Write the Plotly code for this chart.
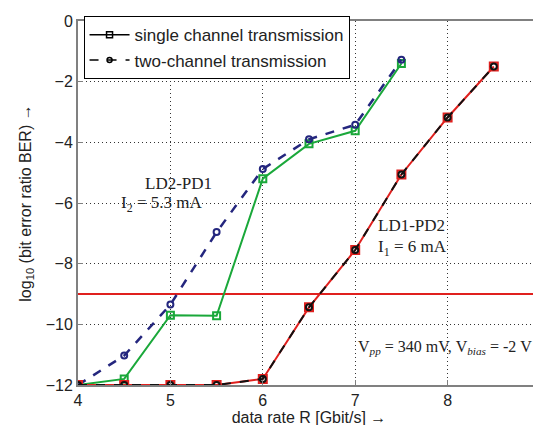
import plotly.graph_objects as go

rate_ld2 = [4, 4.5, 5, 5.5, 6, 6.5, 7, 7.5]
single_ld2 = [-12, -11.8, -9.7, -9.72, -5.2, -4.05, -3.62, -1.4]
two_ld2 = [-12, -11.03, -9.35, -6.96, -4.88, -3.9, -3.42, -1.28]

rate_ld1 = [4, 4.5, 5, 5.5, 6, 6.5, 7, 7.5, 8, 8.5]
single_ld1 = [-12, -12, -12, -12, -11.8, -9.44, -7.55, -5.06, -3.18, -1.5]
two_ld1 = [-12, -12, -12, -12, -11.8, -9.44, -7.55, -5.06, -3.18, -1.5]

ber_limit = -9
x_ticks = [4, 5, 6, 7, 8, 9]
y_ticks = [-12, -10, -8, -6, -4, -2, 0]

fig = go.Figure()

fig.add_trace(go.Scatter(x=[4, 9], y=[ber_limit, ber_limit], mode="lines",
                         line=dict(color="#e0201e", width=2), showlegend=False, hoverinfo="skip"))
fig.add_trace(go.Scatter(x=rate_ld2, y=single_ld2, mode="lines+markers",
                         line=dict(color="#1aa83a", width=2),
                         marker=dict(symbol="square-open", size=7, color="#1aa83a", line=dict(width=2)),
                         showlegend=False))
fig.add_trace(go.Scatter(x=rate_ld2, y=two_ld2, mode="lines+markers",
                         line=dict(color="#24267e", width=2.5, dash="dash"),
                         marker=dict(symbol="circle-open", size=6, color="#24267e", line=dict(width=2)),
                         showlegend=False))
fig.add_trace(go.Scatter(x=rate_ld1, y=single_ld1, mode="lines+markers",
                         line=dict(color="#e0201e", width=2),
                         marker=dict(symbol="square-open", size=8, color="#e0201e", line=dict(width=2)),
                         showlegend=False))
fig.add_trace(go.Scatter(x=rate_ld1, y=two_ld1, mode="lines+markers",
                         line=dict(color="#111111", width=2, dash="dash"),
                         marker=dict(symbol="circle-open", size=6, color="#111111", line=dict(width=2)),
                         showlegend=False))

# legend entries
fig.add_trace(go.Scatter(x=[None], y=[None], mode="lines+markers", name="single channel transmission",
                         line=dict(color="black", width=1.5),
                         marker=dict(symbol="square-open", size=6, color="black", line=dict(width=1.5))))
fig.add_trace(go.Scatter(x=[None], y=[None], mode="lines+markers", name="two-channel transmission",
                         line=dict(color="black", width=1.5, dash="dash"),
                         marker=dict(symbol="circle-open", size=5, color="black", line=dict(width=1.5))))

serif = "Liberation Serif, DejaVu Serif, serif"
sp = "&nbsp;"
ann = [
    dict(x=5.09, y=-5.37, text="LD2-PD1", xanchor="center", size=17),
    dict(x=4.44, y=-6.03, text=f"I<sub>2</sub>{sp}={sp}5.3{sp}mA", xanchor="left", size=17),
    dict(x=7.22, y=-6.75, text="LD1-PD2", xanchor="left", size=17),
    dict(x=7.22, y=-7.47, text=f"I<sub>1</sub>{sp}={sp}6{sp}mA", xanchor="left", size=17),
    dict(x=8.94, y=-10.75,
         text=f"V<sub><i>pp</i></sub>{sp}={sp}340{sp}mV,{sp}V<sub><i>bias</i></sub>{sp}={sp}-2{sp}V",
         xanchor="right", size=16),
]
for a in ann:
    fig.add_annotation(x=a["x"], y=a["y"], text=a["text"], showarrow=False, xanchor=a["xanchor"],
                       yanchor="middle",
                       font=dict(family=serif, size=a["size"], color="#222"))

axis_common = dict(showline=True, linecolor="#808080", linewidth=2, mirror=True,
                   showgrid=True, gridcolor="#333333", griddash="1px,3px", gridwidth=1,
                   ticks="inside", ticklen=5, tickcolor="#808080", zeroline=False,
                   tickfont=dict(family="Liberation Sans, Arial, sans-serif", size=16, color="#222"))

fig.update_layout(
    width=541, height=425,
    margin=dict(l=70, r=4, t=13, b=48),
    paper_bgcolor="white", plot_bgcolor="white",
    font=dict(family="Liberation Sans, Arial, sans-serif", size=16, color="#222"),
    xaxis=dict(range=[4, 9], tickvals=x_ticks, title=dict(text="data rate R [Gbit/s] →", standoff=0,
                                                          font=dict(size=16)),
               **axis_common),
    yaxis=dict(range=[-12, 0], tickvals=y_ticks,
               title=dict(text="log<sub>10</sub> (bit error ratio BER) →", standoff=10, font=dict(size=16)),
               **axis_common),
    legend=dict(x=0.012, y=1.013, xanchor="left", yanchor="top", bordercolor="black", borderwidth=1,
                bgcolor="white", font=dict(size=17, color="#222"), tracegroupgap=0,
                itemwidth=40),
    showlegend=True,
)

fig.write_html("out.html")
